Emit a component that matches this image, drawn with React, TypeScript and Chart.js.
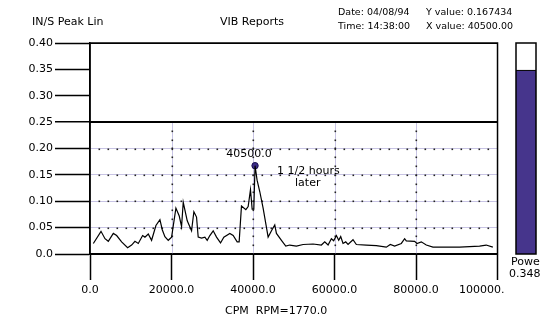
import React, { useEffect, useRef } from 'react';
import { Chart, registerables } from 'chart.js';

Chart.register(...registerables);

const FONT = '"DejaVu Sans", Verdana, sans-serif';

// CPM (x) and IN/S peak (y) spectrum values
const cpmValues = [
  817, 2700, 3680, 4490, 5720, 6540, 7760, 9230, 10210, 11030, 11850, 12910, 13480, 14300, 15110,
  16180, 17160, 17730, 18380, 19200, 20020, 21080, 21900, 22470, 22880, 23860, 24920, 25490, 26140,
  26550, 27370, 28190, 28760, 29410, 30230, 31050, 32030, 32840, 34310, 35130, 36110, 36600, 37170,
  38240, 38810, 39380, 39790, 40200, 40500, 41000, 41670, 42480, 43710, 44530, 45340, 45750, 46980,
  48040, 49020, 50650, 52290, 54740, 56780, 57600, 58420, 59230, 59800, 60460, 61030, 61520, 62090,
  62750, 63320, 64540, 65360, 67810, 70260, 72710, 73690, 74750, 76390, 77210, 77610, 79660, 80230,
  81290, 82520, 84150, 90690, 95590, 97220, 98850,
];
const amplitudeValues = [
  0.020, 0.043, 0.029, 0.024, 0.039, 0.035, 0.023, 0.012, 0.017, 0.024, 0.020, 0.035, 0.032, 0.038, 0.026,
  0.054, 0.065, 0.046, 0.033, 0.026, 0.032, 0.087, 0.072, 0.052, 0.098, 0.063, 0.044, 0.080, 0.070,
  0.032, 0.030, 0.032, 0.026, 0.035, 0.044, 0.032, 0.021, 0.032, 0.039, 0.035, 0.023, 0.023, 0.091,
  0.084, 0.090, 0.122, 0.085, 0.085, 0.167434, 0.140, 0.118, 0.087, 0.032, 0.044, 0.055, 0.039, 0.026,
  0.015, 0.017, 0.015, 0.018, 0.019, 0.017, 0.023, 0.017, 0.029, 0.025, 0.035, 0.026, 0.033, 0.020,
  0.023, 0.018, 0.027, 0.018, 0.017, 0.016, 0.013, 0.018, 0.015, 0.020, 0.029, 0.025, 0.024, 0.020,
  0.023, 0.017, 0.013, 0.013, 0.015, 0.017, 0.013,
];

const peakX = 40500;
const peakY = 0.167434;
const peakLabel = '40500.0';
const noteLines = ['1 1/2 hours', 'later'];
const powerValue = 0.348;
const xGridValues = [20000, 40000, 60000, 80000];
const yGridValues = [0.05, 0.1, 0.15, 0.2];

export default function App() {
  const ref = useRef<HTMLCanvasElement>(null);

  useEffect(() => {
    const canvas = ref.current!;
    const lav = '#c8c4e4';

    const overlay = {
      id: 'overlay',
      beforeDatasetsDraw(chart: any) {
        const { ctx, chartArea: a, scales } = chart;
        const x = scales.x;
        const y = scales.y;
        ctx.save();
        const y0 = y.getPixelForValue(0);
        const y25 = y.getPixelForValue(0.25);
        ctx.strokeStyle = lav;
        ctx.lineWidth = 1;
        for (const v of xGridValues) {
          const px = Math.round(x.getPixelForValue(v)) + 0.5;
          ctx.beginPath();
          ctx.moveTo(px, y25);
          ctx.lineTo(px, y0);
          ctx.stroke();
        }
        ctx.fillStyle = '#222';
        const stepX = 20000 / 9;
        for (const hv of yGridValues) {
          const py = y.getPixelForValue(hv);
          for (let k = 1; k * stepX < 100000 - 100; k++) {
            const px = x.getPixelForValue(k * stepX);
            ctx.fillRect(Math.round(px) - 0.5, Math.round(py) - 0.5, 1.6, 1.6);
          }
        }
        for (const v of xGridValues) {
          const px = x.getPixelForValue(v);
          for (let k = 1; k < 15; k++) {
            const py = y.getPixelForValue((k * 0.05) / 3);
            ctx.fillRect(Math.round(px) - 0.5, Math.round(py) - 0.5, 1.6, 1.6);
          }
        }
        ctx.strokeStyle = '#000';
        ctx.lineWidth = 1.5;
        ctx.strokeRect(a.left, a.top, a.right - a.left, a.bottom - a.top);
        ctx.beginPath();
        ctx.moveTo(a.left, y25);
        ctx.lineTo(a.right, y25);
        ctx.stroke();
        ctx.restore();
      },
      afterDatasetsDraw(chart: any) {
        const { ctx, scales } = chart;
        const x = scales.x;
        const y = scales.y;
        ctx.save();
        const px = x.getPixelForValue(peakX);
        const py = y.getPixelForValue(peakY);
        ctx.fillStyle = '#000';
        ctx.font = `11px ${FONT}`;
        ctx.textAlign = 'center';
        ctx.textBaseline = 'alphabetic';
        ctx.fillText(peakLabel, px - 6, py - 9);
        ctx.textAlign = 'left';
        ctx.textBaseline = 'middle';
        ctx.fillText(noteLines[0], px + 22, py + 5);
        ctx.fillText(noteLines[1], px + 40, py + 17);

        // power bar on the same y scale
        const top = y.getPixelForValue(0.4);
        const bot = y.getPixelForValue(0);
        const fillTop = y.getPixelForValue(powerValue);
        const bx = 516;
        const bw = 20;
        ctx.fillStyle = '#46358c';
        ctx.fillRect(bx, fillTop, bw, bot - fillTop);
        ctx.strokeStyle = '#000';
        ctx.lineWidth = 1.5;
        ctx.strokeRect(bx, top, bw, bot - top);
        ctx.beginPath();
        ctx.moveTo(bx, fillTop);
        ctx.lineTo(bx + bw, fillTop);
        ctx.lineWidth = 1;
        ctx.stroke();
        ctx.restore();
      },
    };

    const chart = new Chart(canvas, {
      type: 'line',
      data: {
        datasets: [
          {
            data: cpmValues.map((v, i) => ({ x: v, y: amplitudeValues[i] })),
            borderColor: '#000',
            borderWidth: 1.2,
            pointRadius: 0,
            tension: 0,
            fill: false,
          },
          {
            data: [{ x: peakX, y: peakY }],
            showLine: false,
            pointRadius: 3.2,
            pointBackgroundColor: '#3b2c86',
            pointBorderColor: '#1a1050',
            pointBorderWidth: 1,
          },
        ],
      },
      options: {
        responsive: false,
        animation: false,
        devicePixelRatio: 1,
        layout: { padding: { left: 0, top: 43, right: 42, bottom: 0 } },
        plugins: { legend: { display: false }, tooltip: { enabled: false }, title: { display: false } },
        scales: {
          x: {
            type: 'linear',
            min: 0,
            max: 100000,
            afterFit: (s: any) => {
              s.height = 65;
            },
            border: { display: true, color: '#000', width: 1.5 },
            grid: {
              drawOnChartArea: false,
              drawTicks: true,
              tickLength: 26,
              tickColor: '#000',
              tickWidth: 1.5,
            },
            ticks: {
              stepSize: 20000,
              autoSkip: false,
              maxRotation: 0,
              padding: 4,
              color: '#000',
              font: { family: FONT, size: 11 },
              callback: (v: any) => (v === 100000 ? '100000.         ' : Number(v).toFixed(1)),
            },
          },
          y: {
            type: 'linear',
            min: 0,
            max: 0.4,
            afterFit: (s: any) => {
              s.width = 90;
            },
            border: { display: true, color: '#000', width: 1.5 },
            grid: {
              drawOnChartArea: true,
              drawTicks: true,
              tickLength: 35,
              tickColor: '#000',
              tickWidth: 1.5,
              color: (c: any) => {
                const v = c.tick ? c.tick.value : 0;
                if (Math.abs(v - 0.25) < 1e-6 || Math.abs(v - 0.4) < 1e-6 || v < 1e-6) return '#000';
                if (v < 0.25) return lav;
                return 'rgba(0,0,0,0)';
              },
              lineWidth: (c: any) => {
                const v = c.tick ? c.tick.value : 0;
                return Math.abs(v - 0.25) < 1e-6 ? 1.5 : 1;
              },
            },
            ticks: {
              stepSize: 0.05,
              padding: 2,
              color: '#000',
              font: { family: FONT, size: 11 },
              callback: (v: any) => (Math.abs(Number(v)) < 1e-9 ? '0.0' : Number(v).toFixed(2)),
            },
          },
        },
      },
      plugins: [overlay],
    } as any);

    return () => chart.destroy();
  }, []);

  const txt = (s: React.CSSProperties): React.CSSProperties => ({
    position: 'absolute',
    fontFamily: FONT,
    color: '#000',
    whiteSpace: 'pre',
    lineHeight: '13px',
    ...s,
  });

  return (
    <div
      style={{
        position: 'absolute',
        left: 0,
        top: 0,
        width: 540,
        height: 319,
        background: '#fff',
        overflow: 'hidden',
      }}
    >
      <canvas ref={ref} width={540} height={319} style={{ position: 'absolute', left: 0, top: 0 }} />
      <div style={txt({ left: 32, top: 15, fontSize: 11 })}>IN/S Peak Lin</div>
      <div style={txt({ left: 220, top: 15, fontSize: 11 })}>VIB Reports</div>
      <div style={txt({ left: 338, top: 5, fontSize: 9.5 })}>Date: 04/08/94</div>
      <div style={txt({ left: 338, top: 18.5, fontSize: 9.5 })}>Time: 14:38:00</div>
      <div style={txt({ left: 426, top: 5, fontSize: 9.5 })}>Y value: 0.167434</div>
      <div style={txt({ left: 426, top: 18.5, fontSize: 9.5 })}>X value: 40500.00</div>
      <div style={txt({ left: 225, top: 303.5, fontSize: 11 })}>CPM  RPM=1770.0</div>
      <div style={txt({ left: 511, top: 254.5, fontSize: 11 })}>Power</div>
      <div style={txt({ left: 509, top: 266.5, fontSize: 11 })}>0.348</div>
    </div>
  );
}
